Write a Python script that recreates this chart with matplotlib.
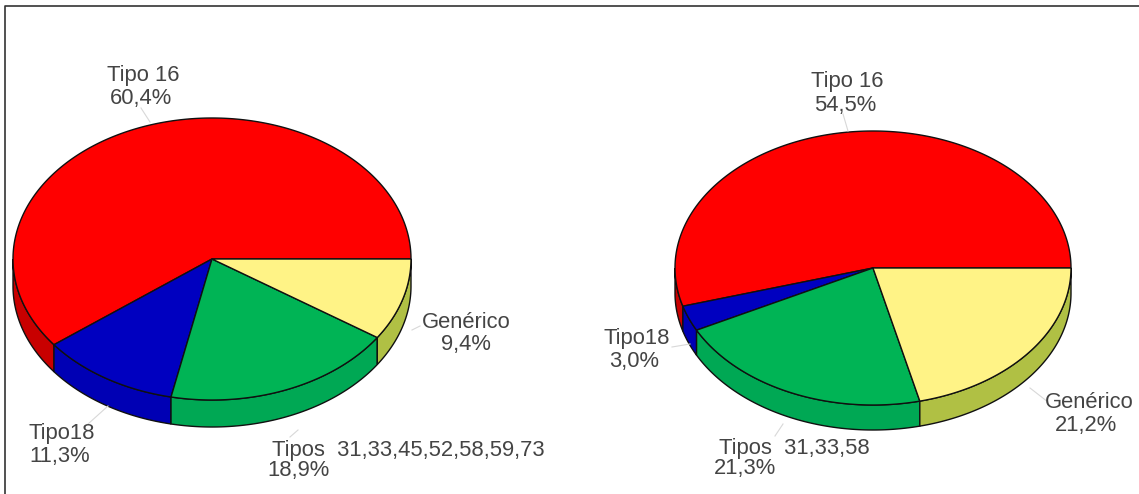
#Two 3D style pies, drawn on a pixel sized axes
import numpy as np
import matplotlib
matplotlib.use("Agg")
import matplotlib.pyplot as plt
from matplotlib.patches import Polygon

categories = ["Tipo 16", "Tipo18", "Tipos", "Genérico"]
left_values = [60.4, 11.3, 18.9, 9.4]
right_values = [54.5, 3.0, 21.3, 21.2]
left_names = ["Tipo 16", "Tipo18", "Tipos  31,33,45,52,58,59,73", "Genérico"]
right_names = ["Tipo 16", "Tipo18", "Tipos  31,33,58", "Genérico"]

top_colors = ["#ff0000", "#0000c0", "#00b455", "#fff386"]
side_colors = ["#c80000", "#0000b4", "#00a854", "#b0c044"]
text_color = "#444444"
fsize = 15.8


def ellipse_pts(cx, cy, rx, ry, a0, a1):
    t = np.radians(np.linspace(a0, a1, max(int(abs(a1 - a0)) * 2, 2)))
    return cx + rx * np.cos(t), cy - ry * np.sin(t)


def draw_pie(ax, values, cx, cy, rx, ry, depth):
    # every slice starts where the last one ended, going counter clockwise from 3 o'clock
    edges = np.concatenate([[0], np.cumsum(values)]) / np.sum(values) * 360

    # side wall, only the front half (180-360) can be seen
    for i in range(len(values)):
        a0, a1 = max(edges[i], 180), min(edges[i + 1], 360)
        if a1 <= a0:
            continue
        x, y = ellipse_pts(cx, cy, rx, ry, a0, a1)
        pts = np.column_stack([np.r_[x, x[::-1]], np.r_[y, y[::-1] + depth]])
        ax.add_patch(Polygon(pts, closed=True, facecolor=side_colors[i],
                             edgecolor="#101010", linewidth=1.0))

    for i in range(len(values)):
        x, y = ellipse_pts(cx, cy, rx, ry, edges[i], edges[i + 1])
        pts = np.column_stack([np.r_[cx, x], np.r_[cy, y]])
        ax.add_patch(Polygon(pts, closed=True, facecolor=top_colors[i],
                             edgecolor="#101010", linewidth=1.0))


def pct(v):
    return ("%.1f%%" % v).replace(".", ",")


fig = plt.figure(figsize=(11.39, 4.94), dpi=100)
plt.rcParams['font.family'] = ['Liberation Sans', 'DejaVu Sans']
ax = fig.add_axes([0, 0, 1, 1])
ax.set_xlim(0, 1139)
ax.set_ylim(494, 0)
ax.axis("off")

# frame of the scanned page
ax.plot([5, 5, 1139], [494, 6.5, 6.5], color="#333333", linewidth=1.2)

# leader lines
for xs, ys in [([141, 150], [108, 122]), ([88, 108], [424, 406]), ([412, 420], [330, 326]),
               ([290, 298], [437, 430]), ([843, 848], [114, 131]), ([672, 690], [347, 344]),
               ([1030, 1048], [388, 402]), ([775, 783], [436, 424])]:
    ax.plot(xs, ys, color="#d8d8d8", linewidth=0.8)

draw_pie(ax, left_values, 212, 259, 199, 141, 27)
draw_pie(ax, right_values, 873, 268, 198, 137, 25)

# label name position, value position
left_pos = [((143, 76), (141, 98)), ((62, 433), (60, 456)), ((272, 450), (267, 470)), ((466, 322), (466, 344))]
right_pos = [((847, 81), (845, 105)), ((637, 338), (634, 361)), ((719, 448), (714, 468)), ((1089, 402), (1086, 425))]

for names, values, pos in [(left_names, left_values, left_pos), (right_names, right_values, right_pos)]:
    for i in range(len(names)):
        ha = "left" if i == 2 else "center"
        ax.text(pos[i][0][0], pos[i][0][1], names[i], ha=ha, va="center", fontsize=fsize, color=text_color)
        ax.text(pos[i][1][0], pos[i][1][1], pct(values[i]), ha=ha, va="center", fontsize=fsize, color=text_color)

fig.savefig("out.png", dpi=100)
